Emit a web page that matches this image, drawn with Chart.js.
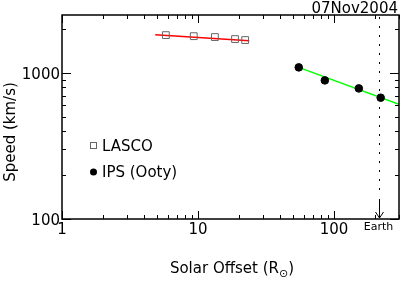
<!DOCTYPE html>
<html>
<head>
<meta charset="utf-8">
<script src="https://cdn.jsdelivr.net/npm/chart.js@4/dist/chart.umd.min.js"></script>
<style>
  html, body { margin: 0; padding: 0; background: #fff; }
</style>
</head>
<body>
<canvas id="chart" width="401" height="281"></canvas>
<script>
// LASCO (squares) and its fit
const lascoX = [5.8, 9.3, 13.3, 18.7, 22.2];
const lascoY = [1820, 1790, 1765, 1710, 1683];
const lascoFitX = [4.85, 23.8];
const lascoFitY = [1829, 1664];

// IPS Ooty (dots) and its fit
const ipsX = [55, 85.5, 152, 220];
const ipsY = [1094, 891, 785, 678];
const ipsFitX = [55, 300];
const ipsFitY = [1094, 612];

const earthR = 215;

const xMajor = [1, 10, 100];
const xMinor = [2, 3, 4, 5, 6, 7, 8, 9, 20, 30, 40, 50, 60, 70, 80, 90, 200, 300];
const yMajor = [100, 1000];
const yMinor = [200, 300, 400, 500, 600, 700, 800, 900, 2000];
const xTickLabels = ["1", "10", "100"];
const yTickLabels = ["100", "1000"];

const FONT = "DejaVu Sans";

function pts(xs, ys) {
  return xs.map((x, i) => ({ x: x, y: ys[i] }));
}

const decorations = {
  id: "decorations",
  afterDraw(chart) {
    const ctx = chart.ctx;
    const a = chart.chartArea;
    const xs = chart.scales.x;
    const ys = chart.scales.y;
    ctx.save();

    // ticks on all four sides
    ctx.strokeStyle = "#000";
    ctx.lineWidth = 1;
    ctx.beginPath();
    const xt = (v, len) => {
      const px = Math.round(xs.getPixelForValue(v)) + 0.5;
      ctx.moveTo(px, a.bottom); ctx.lineTo(px, a.bottom - len);
      ctx.moveTo(px, a.top); ctx.lineTo(px, a.top + len);
    };
    const yt = (v, len) => {
      const py = Math.round(ys.getPixelForValue(v)) + 0.5;
      ctx.moveTo(a.left, py); ctx.lineTo(a.left + len, py);
      ctx.moveTo(a.right, py); ctx.lineTo(a.right - len, py);
    };
    xMajor.forEach(v => xt(v, 8));
    xMinor.forEach(v => xt(v, 4));
    yMajor.forEach(v => yt(v, 9));
    yMinor.forEach(v => yt(v, 4));
    ctx.stroke();

    // frame
    ctx.lineWidth = 1.5;
    ctx.strokeRect(a.left, a.top, a.right - a.left, a.bottom - a.top);

    // tick labels
    ctx.fillStyle = "#000";
    ctx.font = "15px '" + FONT + "'";
    ctx.textBaseline = "alphabetic";
    ctx.textAlign = "center";
    xMajor.forEach((v, i) => ctx.fillText(xTickLabels[i], xs.getPixelForValue(v), 234));
    ctx.textAlign = "right";
    yMajor.forEach((v, i) => ctx.fillText(yTickLabels[i], a.left - 2, ys.getPixelForValue(v) + 5.5));

    // title
    ctx.textAlign = "right";
    ctx.fillText("07Nov2004", 398, 13);

    // y axis title
    ctx.save();
    ctx.translate(15, 132);
    ctx.rotate(-Math.PI / 2);
    ctx.textAlign = "center";
    ctx.fillText("Speed (km/s)", 0, 0);
    ctx.restore();

    // x axis title with subscript sun symbol
    const t1 = "Solar Offset (R";
    const t3 = ")";
    ctx.font = "15px '" + FONT + "'";
    const w1 = ctx.measureText(t1).width;
    const w3 = ctx.measureText(t3).width;
    ctx.font = "11px '" + FONT + "'";
    const w2 = ctx.measureText("\u2299").width;
    let sx = 232 - (w1 + w2 + w3) / 2;
    ctx.textAlign = "left";
    ctx.font = "15px '" + FONT + "'";
    ctx.fillText(t1, sx, 273);
    ctx.font = "11px '" + FONT + "'";
    ctx.fillText("\u2299", sx + w1, 277);
    ctx.font = "15px '" + FONT + "'";
    ctx.fillText(t3, sx + w1 + w2, 273);

    // Earth marker
    const ex = Math.round(xs.getPixelForValue(earthR)) + 0.5;
    ctx.lineWidth = 1;
    ctx.setLineDash([2, 7]);
    ctx.beginPath();
    ctx.moveTo(ex, a.top + 2);
    ctx.lineTo(ex, a.bottom - 22);
    ctx.stroke();
    ctx.setLineDash([]);
    ctx.beginPath();
    ctx.moveTo(ex, a.bottom - 20);
    ctx.lineTo(ex, a.bottom - 1);
    ctx.moveTo(ex - 4, a.bottom - 7);
    ctx.lineTo(ex, a.bottom - 1);
    ctx.lineTo(ex + 4, a.bottom - 7);
    ctx.stroke();
    ctx.font = "11px '" + FONT + "'";
    ctx.textAlign = "center";
    ctx.fillText("Earth", ex - 1, 230);

    // legend
    ctx.strokeStyle = "#666";
    ctx.strokeRect(90.5, 142.5, 6, 6);
    ctx.fillStyle = "#000";
    ctx.beginPath();
    ctx.arc(93.5, 172, 3.5, 0, Math.PI * 2);
    ctx.fill();
    ctx.font = "15px '" + FONT + "'";
    ctx.textAlign = "left";
    ctx.fillText("LASCO", 102, 151);
    ctx.fillText("IPS (Ooty)", 102, 177);

    ctx.restore();
  }
};

new Chart(document.getElementById("chart"), {
  type: "scatter",
  data: {
    datasets: [
      {
        label: "LASCO",
        data: pts(lascoX, lascoY),
        pointStyle: "rect",
        pointRadius: 4.8,
        backgroundColor: "rgba(255,255,255,0)",
        borderColor: "#666",
        borderWidth: 1,
        order: 0
      },
      {
        label: "IPS (Ooty)",
        data: pts(ipsX, ipsY),
        pointStyle: "circle",
        pointRadius: 3.8,
        backgroundColor: "#000",
        borderColor: "#000",
        borderWidth: 1,
        order: 0
      },
      {
        label: "LASCO fit",
        data: pts(lascoFitX, lascoFitY),
        showLine: true,
        pointRadius: 0,
        borderColor: "#ff0000",
        borderWidth: 1.5,
        order: 1
      },
      {
        label: "IPS fit",
        data: pts(ipsFitX, ipsFitY),
        showLine: true,
        pointRadius: 0,
        borderColor: "#00ff00",
        borderWidth: 1.5,
        order: 1
      }
    ]
  },
  options: {
    responsive: false,
    animation: false,
    layout: { autoPadding: false, padding: { left: 62, top: 15, right: 2, bottom: 62 } },
    plugins: {
      legend: { display: false },
      tooltip: { enabled: false }
    },
    scales: {
      x: { type: "logarithmic", min: 1, max: 300, display: false },
      y: { type: "logarithmic", min: 100, max: 2500, display: false }
    }
  },
  plugins: [decorations]
});
</script>
</body>
</html>
